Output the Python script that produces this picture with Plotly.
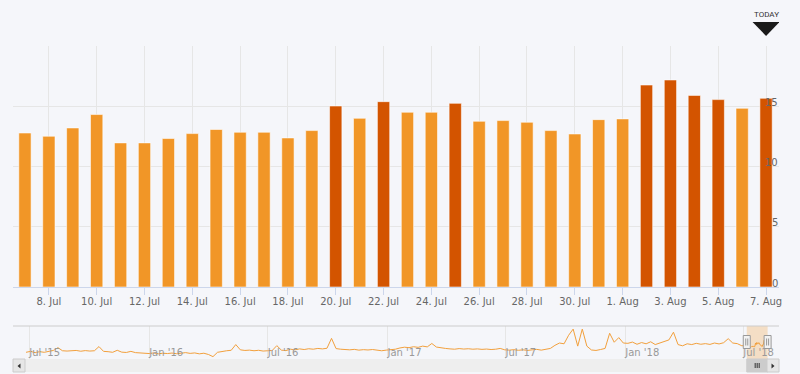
import pandas as pd
import plotly.graph_objects as go

# ---------------- data ----------------
bar_start = "2018-07-07"
bar_values = [12.78, 12.51, 13.2, 14.31, 11.96, 11.96, 12.32, 12.73,
              13.07, 12.84, 12.84, 12.37, 12.98, 15.02, 14.0, 15.38,
              14.5, 14.5, 15.24, 13.75, 13.81, 13.67, 12.98, 12.7,
              13.89, 13.95, 16.76, 17.18, 15.9, 15.55, 14.83, 15.66]
threshold = 15
y_ticks = [0, 5, 10, 15, 20]
y_tick_text = ["0", "5", "10", "15", ""]

# navigator history (weekly readings, from 2015-06-26)
nav_start = "2015-06-26"
nav_weekly = [
    # 2015
    9.0, 9.6, 8.8, 9.4, 9.0, 9.5,
    10.2, 12.0, 10.0, 9.8,
    9.9, 10.2, 9.7, 10.1,
    9.8, 10.0, 12.7, 9.6, 9.4,
    9.0, 10.3, 9.1, 8.9,
    9.6, 8.8, 8.6, 8.4,
    # 2016
    8.2, 8.6, 8.0, 8.4, 8.2,
    8.5, 8.1, 8.4, 8.8,
    8.3, 8.6, 8.0, 8.4,
    7.6, 6.2, 9.0, 9.6, 10.0,
    10.3, 14.0, 10.6, 10.2,
    10.4, 10.0, 10.3, 9.8,
    10.0, 10.2, 13.3, 10.4, 10.1,
    11.0, 10.6, 11.2, 10.8,
    11.3, 11.0, 11.5, 11.2, 11.6,
    18.0, 11.4, 11.0, 10.8,
    10.6, 10.9, 10.4, 10.7,
    10.5, 10.8, 10.3, 10.0, 10.4,
    # 2017
    10.6, 11.0, 11.8, 12.3,
    12.0, 12.6, 12.2, 13.0,
    12.5, 14.7, 12.4, 11.8, 11.5,
    11.2, 11.0, 11.4, 11.1,
    11.3, 11.0, 11.2, 10.9,
    11.1, 10.8, 11.0, 11.5, 10.6,
    10.4, 10.7, 10.3, 10.6,
    10.2, 10.6, 10.9, 10.4,
    10.8, 11.5, 13.5, 15.0, 14.5,
    20.0, 24.0, 13.0, 24.0,
    13.0, 10.5, 10.2, 10.8,
    11.5, 21.3, 15.5, 18.5, 15.0,
    # 2018
    14.8, 15.6, 14.2, 15.3,
    14.5, 15.8, 14.0, 15.0,
    15.5, 17.0, 22.0, 14.0, 13.2,
    14.5, 14.0, 14.8, 14.2,
    14.6, 14.1, 15.0, 14.4,
    15.2, 17.8, 15.0, 14.6, 13.2,
    13.5,
]

today = "2018-08-07"
main_range = ["2018-07-06 12:00", "2018-08-07 13:00"]
nav_range = ["2015-06-06", "2018-08-25"]
selected = ["2018-07-06 12:00", "2018-08-07 12:00"]

# ---------------- derived ----------------
bar_dates = pd.date_range(bar_start, periods=len(bar_values), freq="D")
bar_colors = ["#d35400" if v >= threshold else "#f19627" for v in bar_values]
nav_dates = list(pd.date_range(nav_start, periods=len(nav_weekly), freq="7D")) + list(bar_dates)
nav_values = nav_weekly + bar_values

W, H = 800, 374
def px(x):
    return x / W
def py(y):
    return 1 - y / H

BG = "#f5f6fa"
FONT = "DejaVu Sans, Open Sans, sans-serif"

fig = go.Figure()
fig.add_trace(go.Bar(
    x=bar_dates, y=bar_values,
    width=0.514 * 86400000,
    marker=dict(color=bar_colors, line=dict(color="rgba(255,255,255,0.55)", width=1)),
    xaxis="x", yaxis="y", hoverinfo="skip",
))
fig.add_trace(go.Scatter(
    x=nav_dates, y=nav_values, mode="lines",
    line=dict(color="#f2a03d", width=1),
    xaxis="x2", yaxis="y2", hoverinfo="skip",
))

x_dom = [px(13), px(779)]
nav_top, nav_bot = 326, 359
sb_top, sb_bot = 359, 372

shapes = []
# navigator top border
shapes.append(dict(type="line", xref="paper", yref="paper", x0=x_dom[0], x1=x_dom[1],
                   y0=py(nav_top), y1=py(nav_top), line=dict(color="#cccccc", width=1)))
# selected mask
shapes.append(dict(type="rect", xref="x2", yref="paper", x0=selected[0], x1=selected[1],
                   y0=py(nav_bot), y1=py(nav_top), fillcolor="rgba(242,150,39,0.25)",
                   line=dict(width=0), layer="below"))
# scrollbar track
shapes.append(dict(type="rect", xref="paper", yref="paper", x0=x_dom[0], x1=x_dom[1],
                   y0=py(sb_bot), y1=py(sb_top), fillcolor="#eeeeee", line=dict(width=0)))
# scrollbar thumb
shapes.append(dict(type="rect", xref="x2", yref="paper", x0=selected[0], x1=selected[1],
                   y0=py(sb_bot), y1=py(sb_top), fillcolor="#cccccc",
                   line=dict(color="#cccccc", width=1)))
for dx in (-2, 0, 2):
    shapes.append(dict(type="line", xref="x2", xsizemode="pixel", xanchor="2018-07-22 12:00",
                       x0=dx, x1=dx, yref="paper", y0=py(368), y1=py(363),
                       line=dict(color="#333333", width=1)))
# scrollbar buttons
for (a, b) in ((13, 25), (767, 779)):
    shapes.append(dict(type="rect", xref="paper", yref="paper", x0=px(a), x1=px(b),
                       y0=py(sb_bot), y1=py(sb_top), fillcolor="#e6e6e6",
                       line=dict(color="#cccccc", width=1)))
shapes.append(dict(type="path", xref="paper", yref="paper",
                   path=f"M{px(20.5)},{py(363.5)} L{px(20.5)},{py(368.5)} L{px(17.5)},{py(366)} Z",
                   fillcolor="#333333", line=dict(width=0)))
shapes.append(dict(type="path", xref="paper", yref="paper",
                   path=f"M{px(771.5)},{py(363.5)} L{px(771.5)},{py(368.5)} L{px(774.5)},{py(366)} Z",
                   fillcolor="#333333", line=dict(width=0)))
# navigator handles
for edge in selected:
    shapes.append(dict(type="rect", xref="x2", xsizemode="pixel", xanchor=edge,
                       x0=-3.5, x1=3.5, yref="paper", y0=py(348.5), y1=py(335.5),
                       fillcolor="#f2f2f2", line=dict(color="#999999", width=1)))
    for dx in (-1, 1):
        shapes.append(dict(type="line", xref="x2", xsizemode="pixel", xanchor=edge,
                           x0=dx, x1=dx, yref="paper", y0=py(345.5), y1=py(338.5),
                           line=dict(color="#999999", width=1)))
# TODAY marker triangle
shapes.append(dict(type="path", xref="x", xsizemode="pixel", xanchor=today, yref="paper",
                   path=f"M-13.5,{py(22)} L13.5,{py(22)} L0,{py(36)} Z",
                   fillcolor="#1a1a1a", line=dict(width=0)))

annotations = [dict(x=today, xref="x", y=py(14), yref="paper", text="TODAY",
                    showarrow=False, font=dict(size=8, color="#333333", family="Roboto, sans-serif"),
                    xanchor="center", yanchor="middle")]
# right-side y labels (drawn over the bars, like the original)
for v, t in zip(y_ticks, y_tick_text):
    if t:
        annotations.append(dict(x=px(779), xref="paper", y=v, yref="y", text=t,
                                showarrow=False, xanchor="right", yanchor="middle",
                                yshift=4, xshift=1,
                                font=dict(size=10, color="#666666", family=FONT)))

fig.update_layout(
    width=W, height=H,
    margin=dict(l=0, r=0, t=0, b=0),
    paper_bgcolor=BG, plot_bgcolor=BG,
    showlegend=False, hovermode=False,
    font=dict(family=FONT, color="#666666", size=10),
    xaxis=dict(
        domain=x_dom, anchor="y", type="date", range=main_range,
        tick0="2018-07-08", dtick=2 * 86400000, tickformat="%-d. %b",
        showgrid=True, gridcolor="#e6e6e6", gridwidth=1,
        showline=True, linecolor="#ccd6eb", linewidth=1,
        ticks="outside", ticklen=7, tickcolor="#ccd6eb",
        ticklabelstandoff=-2, automargin=False,
        tickfont=dict(size=10, color="#666666", family=FONT),
    ),
    yaxis=dict(
        domain=[py(287), py(46)], anchor="x", range=[0, 20], side="right",
        tickvals=y_ticks, showticklabels=False, ticks="",
        showgrid=True, gridcolor="#e6e6e6", zeroline=False, showline=False,
    ),
    xaxis2=dict(
        domain=x_dom, anchor="y2", type="date", range=nav_range,
        tick0="2015-07-01", dtick="M6", tickformat="%b '%y",
        ticklabelposition="inside right", ticklabelstandoff=-5,
        showgrid=True, gridcolor="#e6e6e6", showline=False, ticks="",
        tickfont=dict(size=10, color="#999999", family=FONT),
    ),
    yaxis2=dict(
        domain=[py(nav_bot), py(nav_top)], anchor="x2", range=[4.67, 26],
        visible=False, showgrid=False,
    ),
    shapes=shapes,
    annotations=annotations,
)

fig.write_html("out.html", config={"displayModeBar": False},
               post_script="document.body.style.margin='0';document.body.style.padding='0';")
